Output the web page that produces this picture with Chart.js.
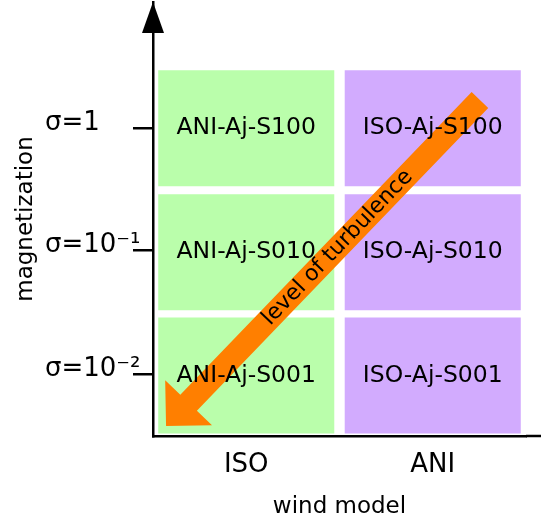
<!DOCTYPE html>
<html>
<head>
<meta charset="utf-8">
<script src="https://cdn.jsdelivr.net/npm/chart.js@4.4.1/dist/chart.umd.min.js"></script>
<style>
  html, body { margin: 0; padding: 0; background: #fff; }
  #wrap { width: 541px; height: 522px; }
</style>
</head>
<body>
<div id="wrap"><canvas id="runGrid"></canvas></div>
<script>
const windModels = ['ISO', 'ANI'];
const sigmaLabels = ['σ=10⁻²', 'σ=10⁻¹', 'σ=1'];
const sigmaLevels = [0.5, 1.5, 2.48];
const rowSpans = [[0.02, 0.955], [1.015, 1.95], [2.015, 2.95]];
const isoRuns = ['ANI-Aj-S001', 'ANI-Aj-S010', 'ANI-Aj-S100'];
const aniRuns = ['ISO-Aj-S001', 'ISO-Aj-S010', 'ISO-Aj-S100'];
const turbulenceFrom = [1.253, 2.71];
const turbulenceTo = [-0.43, 0.08];
const turbulenceLabel = 'level of turbulence';

const GREEN = '#bafeab';
const PURPLE = '#d2abfe';
const ORANGE = '#ff7f00';

Chart.defaults.font.family = 'DejaVu Sans';
Chart.defaults.color = '#000';

// orange arrow + run names, then the arrowhead on the y axis
const diagram = {
  id: 'diagram',
  afterDatasetsDraw(chart) {
    const { ctx, scales: { x, y } } = chart;
    const x0 = x.getPixelForValue(turbulenceFrom[0]), y0 = y.getPixelForValue(turbulenceFrom[1]);
    const x1 = x.getPixelForValue(turbulenceTo[0]), y1 = y.getPixelForValue(turbulenceTo[1]);
    const len = Math.hypot(x1 - x0, y1 - y0);
    const shaft = 11.5, head = 32.5;

    ctx.save();
    ctx.translate(x0, y0);
    ctx.rotate(Math.atan2(y1 - y0, x1 - x0));
    ctx.fillStyle = ORANGE;
    ctx.beginPath();
    ctx.moveTo(0, -shaft);
    ctx.lineTo(len - head, -shaft);
    ctx.lineTo(len - head, -head);
    ctx.lineTo(len, 0);
    ctx.lineTo(len - head, head);
    ctx.lineTo(len - head, shaft);
    ctx.lineTo(0, shaft);
    ctx.closePath();
    ctx.fill();

    ctx.translate(len * 0.453, 0);
    ctx.rotate(Math.PI);
    ctx.fillStyle = '#000';
    ctx.font = '22px "DejaVu Sans"';
    ctx.textAlign = 'center';
    ctx.textBaseline = 'middle';
    ctx.fillText(turbulenceLabel, 0, 0);
    ctx.restore();

    ctx.save();
    ctx.fillStyle = '#000';
    ctx.font = '23.5px "DejaVu Sans"';
    ctx.textAlign = 'center';
    ctx.textBaseline = 'middle';
    chart.data.datasets.forEach((ds, i) => {
      chart.getDatasetMeta(i).data.forEach((bar, j) => {
        ctx.fillText(ds.runs[j], bar.x, (bar.y + bar.base) / 2);
      });
    });
    ctx.restore();
  },
  afterDraw(chart) {
    const { ctx, chartArea: a } = chart;
    ctx.save();
    ctx.fillStyle = '#000';
    ctx.beginPath();
    ctx.moveTo(a.left, a.top);
    ctx.lineTo(a.left - 11, a.top + 31);
    ctx.lineTo(a.left + 11, a.top + 31);
    ctx.closePath();
    ctx.fill();
    // x axis carries on to the edge
    ctx.strokeStyle = '#000';
    ctx.lineWidth = 2.5;
    ctx.beginPath();
    ctx.moveTo(a.right, a.bottom);
    ctx.lineTo(chart.width, a.bottom);
    ctx.stroke();
    ctx.restore();
  }
};

new Chart(document.getElementById('runGrid'), {
  type: 'bar',
  data: {
    labels: windModels,
    datasets: rowSpans.map((span, i) => ({
      label: sigmaLabels[i],
      data: windModels.map(() => span),
      runs: [isoRuns[i], aniRuns[i]],
      backgroundColor: [GREEN, PURPLE],
      borderWidth: 0,
      grouped: false,
      barPercentage: 0.944,
      categoryPercentage: 1,
    })),
  },
  options: {
    responsive: true,
    maintainAspectRatio: false,
    animation: false,
    layout: { padding: { top: 2, right: 15, bottom: 0, left: 0 } },
    plugins: { legend: { display: false }, tooltip: { enabled: false } },
    scales: {
      x: {
        type: 'category',
        offset: true,
        grid: { display: false, drawTicks: false },
        border: { color: '#000', width: 2.5 },
        ticks: { font: { size: 26 }, color: '#000', padding: 14 },
        title: { display: true, text: 'wind model', font: { size: 23 }, color: '#000', padding: { top: 0, bottom: 1 } },
        afterFit: (s) => { s.height = 86; s.paddingLeft = 0; s.paddingRight = 0; },
      },
      y: {
        type: 'linear',
        position: 'left',
        weight: 0,
        min: 0,
        max: 3.5,
        afterBuildTicks: (s) => { s.ticks = sigmaLevels.map((v) => ({ value: v })); },
        grid: { drawOnChartArea: false, drawTicks: true, tickLength: 20, color: '#000', lineWidth: 2.5 },
        border: { color: '#000', width: 2.5 },
        ticks: {
          crossAlign: 'far',
          labelOffset: -5,
          font: { size: 26 },
          color: '#000',
          callback: (v, i) => sigmaLabels[i],
        },
        afterFit: (s) => { s.width = 108; s.paddingTop = 0; s.paddingBottom = 0; },
      },
      yTitle: {
        type: 'linear',
        position: 'left',
        weight: 1,
        display: true,
        grid: { display: false, drawTicks: false },
        border: { display: false },
        ticks: { display: false },
        title: { display: true, text: 'magnetization', font: { size: 23 }, color: '#000', padding: { top: 12, bottom: 0 } },
        afterFit: (s) => { s.width = 45; s.paddingTop = 0; s.paddingBottom = 0; },
      },
    },
  },
  plugins: [diagram],
});
</script>
</body>
</html>
